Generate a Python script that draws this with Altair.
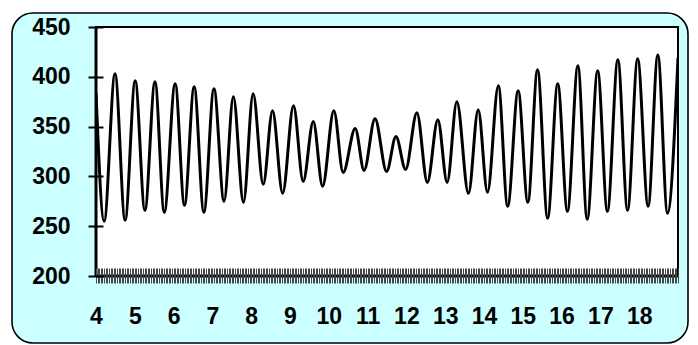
import altair as alt
import pandas as pd

# Time (days) of each turning point of the curve, and the level there
days = [4.00, 4.21, 4.49, 4.75, 5.01, 5.26, 5.52, 5.76, 6.04, 6.28,
        6.53, 6.78, 7.04, 7.30, 7.54, 7.80, 8.05, 8.31, 8.55, 8.81,
        9.09, 9.34, 9.60, 9.84, 10.13, 10.37, 10.68, 10.91, 11.19, 11.49,
        11.73, 11.98, 12.27, 12.54, 12.81, 13.05, 13.30, 13.60, 13.85, 14.09,
        14.37, 14.61, 14.88, 15.13, 15.38, 15.64, 15.90, 16.15, 16.42, 16.66,
        16.93, 17.18, 17.45, 17.70, 17.96, 18.23, 18.48, 18.73, 19.00]
levels = [384, 255, 403, 256, 396, 266, 395, 264, 393, 271,
          390, 264, 388, 275, 380, 274, 383, 292, 366, 283,
          371, 295, 355, 290, 366, 304, 348, 306, 358, 305,
          340, 307, 364, 294, 357, 294, 375, 283, 367, 284,
          391, 270, 386, 274, 407, 258, 393, 265, 411, 257,
          406, 265, 417, 266, 418, 270, 422, 263, 419]

y_ticks = [200, 250, 300, 350, 400, 450]
x_domain = [4, 19]
x_minor_ticks = [4 + i / 24 for i in range(15 * 24 + 1)]

W, H = 582, 249
FONT = "Liberation Sans"

df = pd.DataFrame({"day": days, "level": levels})
one = alt.Data(values=[{}])

frame = alt.Chart(one).mark_rect(
    fill="#CCFFFF", stroke="black", strokeWidth=1.6, cornerRadius=21
).encode(
    x=alt.value(-84), x2=alt.value(592), y=alt.value(-14), y2=alt.value(316)
)

plot_bg = alt.Chart(one).mark_rect(
    fill="white", stroke="black", strokeWidth=2
).encode(
    x=alt.value(0), x2=alt.value(W), y=alt.value(0), y2=alt.value(H)
)

left_axis = alt.Chart(one).mark_rule(color="black", strokeWidth=3).encode(
    x=alt.value(0), y=alt.value(0), y2=alt.value(H)
)
bottom_axis = alt.Chart(one).mark_rule(color="black", strokeWidth=3).encode(
    x=alt.value(0), x2=alt.value(W), y=alt.value(H)
)

line = alt.Chart(df).mark_line(
    color="black", strokeWidth=3, interpolate="monotone", clip=True
).encode(
    x=alt.X("day:Q", scale=alt.Scale(domain=x_domain, nice=False, zero=False),
            axis=alt.Axis(values=x_minor_ticks, title=None, zindex=1,
                          domain=False, offset=-8, tickSize=15, tickWidth=1,
                          tickColor="#444444", labelOverlap=False,
                          labelFlush=False,
                          labelExpr="datum.value % 1 == 0 && datum.value < 19 ? datum.value : ''",
                          labelFont=FONT, labelFontSize=23, labelFontWeight="bold",
                          labelColor="black", labelPadding=22)),
    y=alt.Y("level:Q", scale=alt.Scale(domain=[200, 450], nice=False, zero=False),
            axis=alt.Axis(values=y_ticks, title=None, zindex=1, grid=False,
                          domain=False, offset=-7, tickSize=15, tickWidth=2,
                          tickColor="black", labelFont=FONT, labelFontSize=23,
                          labelFontWeight="bold", labelColor="black",
                          labelPadding=18))
)

chart = alt.layer(frame, plot_bg, line, left_axis, bottom_axis).properties(
    width=W, height=H, autosize=alt.AutoSizeParams(type="none"),
    padding={"left": 88, "top": 19, "right": 12, "bottom": 68},
    background="white"
).configure_view(stroke=None).configure_axis(grid=False)

chart.save("out.html", embed_options={"renderer": "svg", "actions": False})
